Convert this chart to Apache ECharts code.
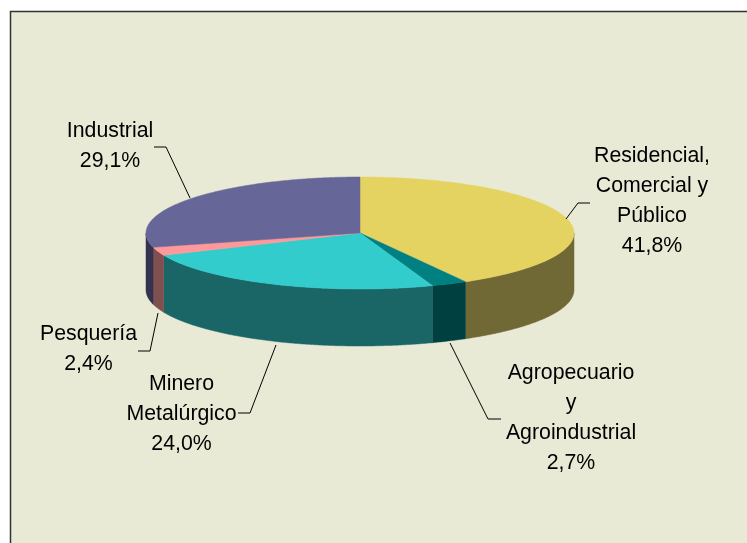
<!DOCTYPE html>
<html>
<head>
<meta charset="utf-8">
<style>html,body{margin:0;padding:0;background:#fff}#c{width:747px;height:543px}</style>
<script src="https://cdn.jsdelivr.net/npm/echarts@6/dist/echarts.min.js"></script>
</head>
<body>
<div id="c"></div>
<script>
var categories = ['Residencial,\nComercial y\nPúblico', 'Agropecuario\ny\nAgroindustrial', 'Minero\nMetalúrgico', 'Pesquería', 'Industrial'];
var shares = [41.8, 2.7, 24.0, 2.4, 29.1];
var topColors = ['#E4D261', '#008080', '#33CCCC', '#FF9999', '#666699'];
var wallColors = ['#716935', '#004040', '#1A6666', '#805050', '#333350'];
var labelCenters = [[652, 201], [571, 418], [181.5, 414], [88.5, 349.5], [110, 146]];
var leaderLines = [
  [[566, 219], [578, 203], [590, 203]],
  [[450, 343], [488, 419], [501, 419]],
  [[276, 345], [250, 413], [238, 413]],
  [[158, 313], [150, 351], [138, 351]],
  [[190, 198], [166, 147], [154, 147]]
];
var pie = { cx: 360, cy: 233, rx: 214, ry: 56, depth: 57 };

var total = shares.reduce(function (a, b) { return a + b; }, 0);
function bounds(i) {
  var before = 0;
  for (var k = 0; k < i; k++) before += shares[k];
  return [before / total * 2 * Math.PI, (before + shares[i]) / total * 2 * Math.PI];
}
function pt(a, dy) {
  return [pie.cx + pie.rx * Math.sin(a), pie.cy - pie.ry * Math.cos(a) + (dy || 0)];
}
function arc(a0, a1, dy) {
  var n = Math.max(2, Math.ceil((a1 - a0) / 0.01)), out = [];
  for (var j = 0; j <= n; j++) out.push(pt(a0 + (a1 - a0) * j / n, dy));
  return out;
}
var seriesData = shares.map(function (v, i) { return { value: [i, v] }; });

var option = {
  animation: false,
  backgroundColor: '#ffffff',
  graphic: [{
    type: 'rect', silent: true, z: -10,
    shape: { x: 10.5, y: 11.5, width: 760, height: 560 },
    style: { fill: '#E9EAD5', stroke: '#333333', lineWidth: 1.5 }
  }],
  series: [
    {
      type: 'custom', coordinateSystem: 'none', z: 1, data: seriesData, silent: true,
      renderItem: function (params, api) {
        var b = bounds(api.value(0));
        var a0 = Math.max(b[0], Math.PI / 2), a1 = Math.min(b[1], 3 * Math.PI / 2);
        if (a1 <= a0) return { type: 'group', children: [] };
        var c = wallColors[api.value(0)];
        var pts = arc(a0, a1, 0).concat(arc(a0, a1, pie.depth).reverse());
        return { type: 'polygon', shape: { points: pts }, style: { fill: c, stroke: c, lineWidth: 0.5 } };
      }
    },
    {
      type: 'custom', coordinateSystem: 'none', z: 2, data: seriesData, silent: true,
      renderItem: function (params, api) {
        var b = bounds(api.value(0));
        var c = topColors[api.value(0)];
        var pts = [[pie.cx, pie.cy]].concat(arc(b[0], b[1], 0));
        return { type: 'polygon', shape: { points: pts }, style: { fill: c, stroke: c, lineWidth: 0.5 } };
      }
    },
    {
      type: 'custom', coordinateSystem: 'none', z: 3, data: seriesData, silent: true,
      renderItem: function (params, api) {
        var i = api.value(0);
        return {
          type: 'group',
          children: [
            { type: 'polyline', shape: { points: leaderLines[i] }, style: { fill: null, stroke: '#000', lineWidth: 1 } },
            { type: 'text', style: {
                text: categories[i] + '\n' + api.value(1).toFixed(1).replace('.', ',') + '%',
                x: labelCenters[i][0], y: labelCenters[i][1],
                textAlign: 'center', textVerticalAlign: 'middle',
                font: '21.3px "Liberation Sans", Arial, sans-serif', lineHeight: 30, fill: '#000'
            } }
          ]
        };
      }
    }
  ]
};
echarts.init(document.getElementById('c')).setOption(option);
</script>
</body>
</html>
